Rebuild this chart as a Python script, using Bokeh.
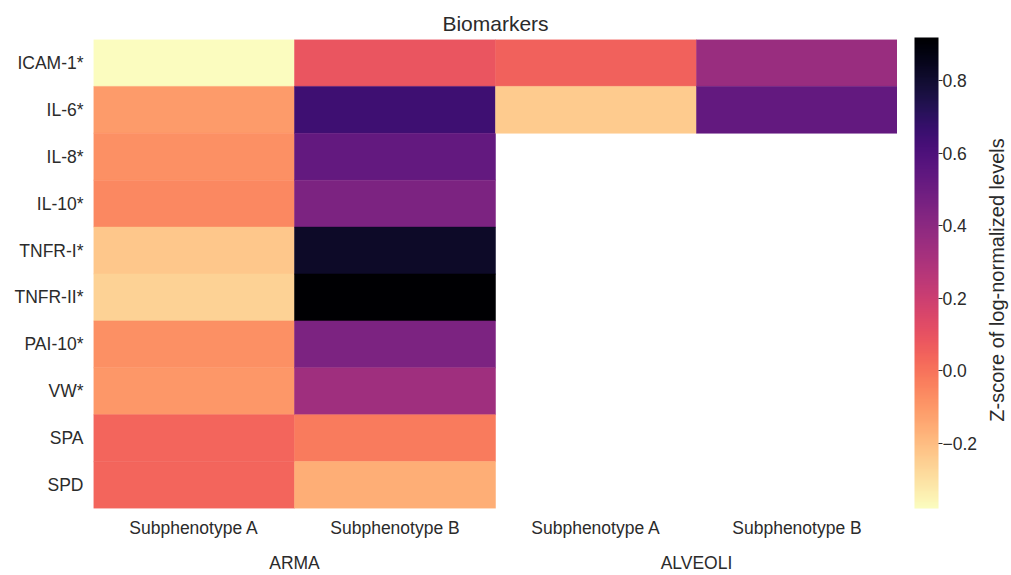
import math

from bokeh.embed import file_html
from bokeh.resources import INLINE
from bokeh.plotting import figure
from bokeh.layouts import row
from bokeh.models import (ColumnDataSource, FactorRange, LinearColorMapper, ColorBar,
                          FixedTicker, CustomJSTickFormatter, CategoricalAxis, Label, Range1d)
from bokeh.palettes import Magma256

# ---- data -------------------------------------------------------------
biomarkers = ["ICAM-1*", "IL-6*", "IL-8*", "IL-10*", "TNFR-I*", "TNFR-II*",
              "PAI-10*", "VW*", "SPA", "SPD"]
cohorts = ["ARMA", "ARMA", "ALVEOLI", "ALVEOLI"]
subphenotypes = ["Subphenotype A", "Subphenotype B", "Subphenotype A", "Subphenotype B"]
cohort_groups = ["ARMA", "ALVEOLI"]

# z-scores of log-normalized levels; None = not measured
arma_a = [-0.38, -0.11, -0.08, -0.06, -0.23, -0.26, -0.08, -0.10, 0.04, 0.04]
arma_b = [0.09, 0.65, 0.53, 0.45, 0.82, 0.92, 0.45, 0.34, -0.02, -0.16]
alveoli_a = [0.05, -0.24, None, None, None, None, None, None, None, None]
alveoli_b = [0.36, 0.53, None, None, None, None, None, None, None, None]

cbar_ticks = [-0.2, 0.0, 0.2, 0.4, 0.6, 0.8]
vmin, vmax = -0.38, 0.92

TEXT = "#2b2b2b"
FONT = "Liberation Sans"
TICK_SIZE = "17.5px"

# ---- build long-form table -------------------------------------------
# the subphenotype names repeat per cohort; a zero-width space keeps the
# second cohort's factors distinct while printing the same label
columns = [arma_a, arma_b, alveoli_a, alveoli_b]
col_keys = [s + "\u200b" * cohort_groups.index(c) for c, s in zip(cohorts, subphenotypes)]
xs, ys, vals = [], [], []
for key, col in zip(col_keys, columns):
    for marker, v in zip(biomarkers, col):
        if v is None:
            continue
        xs.append(key)
        ys.append(marker)
        vals.append(v)
source = ColumnDataSource(dict(x=xs, y=ys, value=vals))

x_range = FactorRange(*col_keys, range_padding=0)
y_range = FactorRange(*reversed(biomarkers), range_padding=0)

mapper = LinearColorMapper(palette=list(reversed(Magma256)), low=vmin, high=vmax)

# ---- heatmap ------------------------------------------------------------
p = figure(width=897, height=575, x_range=x_range, y_range=y_range,
           output_backend="svg", toolbar_location=None,
           min_border_left=93, min_border_right=0, min_border_top=39, min_border_bottom=65)

p.rect(x="x", y="y", width=1, height=1, source=source,
       fill_color={"field": "value", "transform": mapper},
       line_color={"field": "value", "transform": mapper}, line_width=0.5)

p.title.text = "Biomarkers"
p.title.align = "center"
p.title.text_font = FONT
p.title.text_font_size = "21px"
p.title.text_font_style = "normal"
p.title.text_color = TEXT

p.outline_line_color = None
p.grid.grid_line_color = None
p.background_fill_color = "white"
p.border_fill_color = "white"

# cohort labels under the subphenotype labels
p.extra_x_ranges = {"cohort": FactorRange(*cohort_groups, range_padding=0)}
cohort_axis = CategoricalAxis(x_range_name="cohort")
p.add_layout(cohort_axis, "below")

for ax in (p.xaxis[0], p.yaxis[0], cohort_axis):
    ax.axis_line_color = None
    ax.major_tick_line_color = None
    ax.minor_tick_line_color = None
    ax.major_tick_out = 0
    ax.major_tick_in = 0
    ax.major_label_text_font = FONT
    ax.major_label_text_font_size = TICK_SIZE
    ax.major_label_text_color = TEXT

p.xaxis[0].major_label_standoff = 9
cohort_axis.major_label_standoff = 12
p.yaxis.major_label_standoff = 10

# ---- colour bar panel -----------------------------------------------------
cb = figure(width=114, height=575, x_range=Range1d(0, 114), y_range=Range1d(0, 471),
            output_backend="svg", toolbar_location=None,
            x_axis_type=None, y_axis_type=None,
            min_border_left=0, min_border_right=0, min_border_top=39, min_border_bottom=65)
cb.outline_line_color = None
cb.grid.grid_line_color = None
cb.background_fill_color = "white"
cb.border_fill_color = "white"

color_bar = ColorBar(color_mapper=mapper, width=24, height=471, location=(17, 0),
                     ticker=FixedTicker(ticks=cbar_ticks),
                     formatter=CustomJSTickFormatter(code="return tick.toFixed(1).replace('-', '\u2212')"),
                     major_label_text_font=FONT, major_label_text_font_size=TICK_SIZE,
                     major_label_text_color=TEXT,
                     major_tick_in=0, major_tick_out=4, major_tick_line_color=TEXT,
                     minor_tick_line_color=None, bar_line_color=None, border_line_color=None,
                     background_fill_alpha=0, label_standoff=0, padding=0, margin=0)
cb.add_layout(color_bar)

cb_label = Label(x=99, y=229.5, text="Z-score of log-normalized levels", angle=math.pi / 2,
                 text_align="center", text_baseline="middle",
                 text_font=FONT, text_font_size="20px", text_color=TEXT)
cb.add_layout(cb_label)

layout = row(p, cb)
open("out.html", "w").write(file_html(layout, INLINE))
